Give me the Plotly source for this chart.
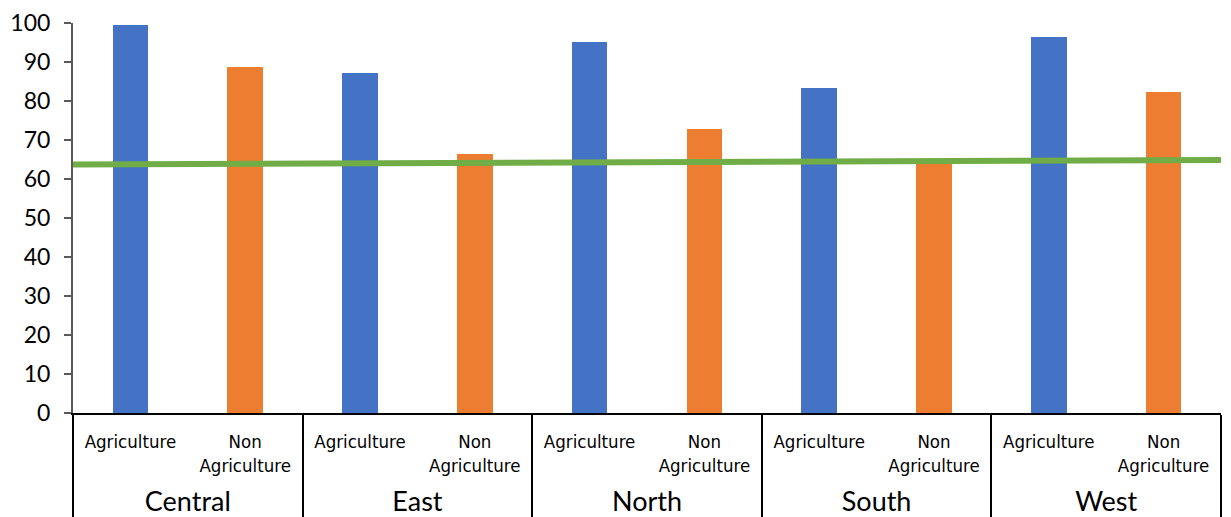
import plotly.graph_objects as go

regions = ["Central", "East", "North", "South", "West"]
sectors = ["Agriculture", "Non<br>Agriculture"]
agri_values = [99.5, 87.3, 95.2, 83.4, 96.5]
nonagri_values = [88.8, 66.3, 72.7, 64.5, 82.2]
trend_x = [0, 1]
trend_values = [63.7, 64.9]
y_ticks = list(range(0, 101, 10))

BLUE = "#4472C4"
ORANGE = "#ED7D31"
GREEN = "#70AD47"

GROUP_FONT = "Lato"
SUB_FONT = "DejaVu Sans Condensed, Liberation Sans Narrow, Roboto"

def grp(name):
    return (f' <br><span style="font-family:{GROUP_FONT};font-size:27px;'
            f'baseline-shift:-3px">{name}</span>')

x_level1, x_level2, y_vals, colors = [], [], [], []
for r, a, n in zip(regions, agri_values, nonagri_values):
    for s, v, c in zip(sectors, [a, n], [BLUE, ORANGE]):
        x_level1.append(grp(r))
        x_level2.append(s)
        y_vals.append(v)
        colors.append(c)

fig = go.Figure()
fig.add_trace(go.Bar(
    x=[x_level1, x_level2], y=y_vals,
    marker=dict(color=colors, line=dict(width=0)),
    width=0.31, showlegend=False,
))
fig.add_trace(go.Scatter(
    x=trend_x, y=trend_values, xaxis="x2", mode="lines",
    line=dict(color=GREEN, width=6), showlegend=False, cliponaxis=False,
))

fig.update_layout(
    width=1231, height=517,
    margin=dict(l=73, r=10, t=23, b=104),
    plot_bgcolor="white", paper_bgcolor="white",
    bargap=0,
    xaxis=dict(
        type="multicategory", automargin=False,
        showline=True, linecolor="#000000", linewidth=1.5,
        showdividers=True, dividercolor="#000000", dividerwidth=1.5,
        ticks="", showgrid=False,
        tickfont=dict(family=SUB_FONT, size=18.5, color="#000000"),
        ticklabelstandoff=11,
    ),
    xaxis2=dict(overlaying="x", range=[0, 1], visible=False),
    yaxis=dict(
        range=[0, 100], tickvals=y_ticks, automargin=False,
        showline=True, linecolor="#595959", linewidth=2,
        ticks="outside", ticklen=7, tickcolor="#595959", tickwidth=1.5,
        showgrid=False, zeroline=False,
        tickfont=dict(family="Lato", size=23, color="#000000"),
        ticklabelstandoff=9,
    ),
)

fig.write_html("out.html")
